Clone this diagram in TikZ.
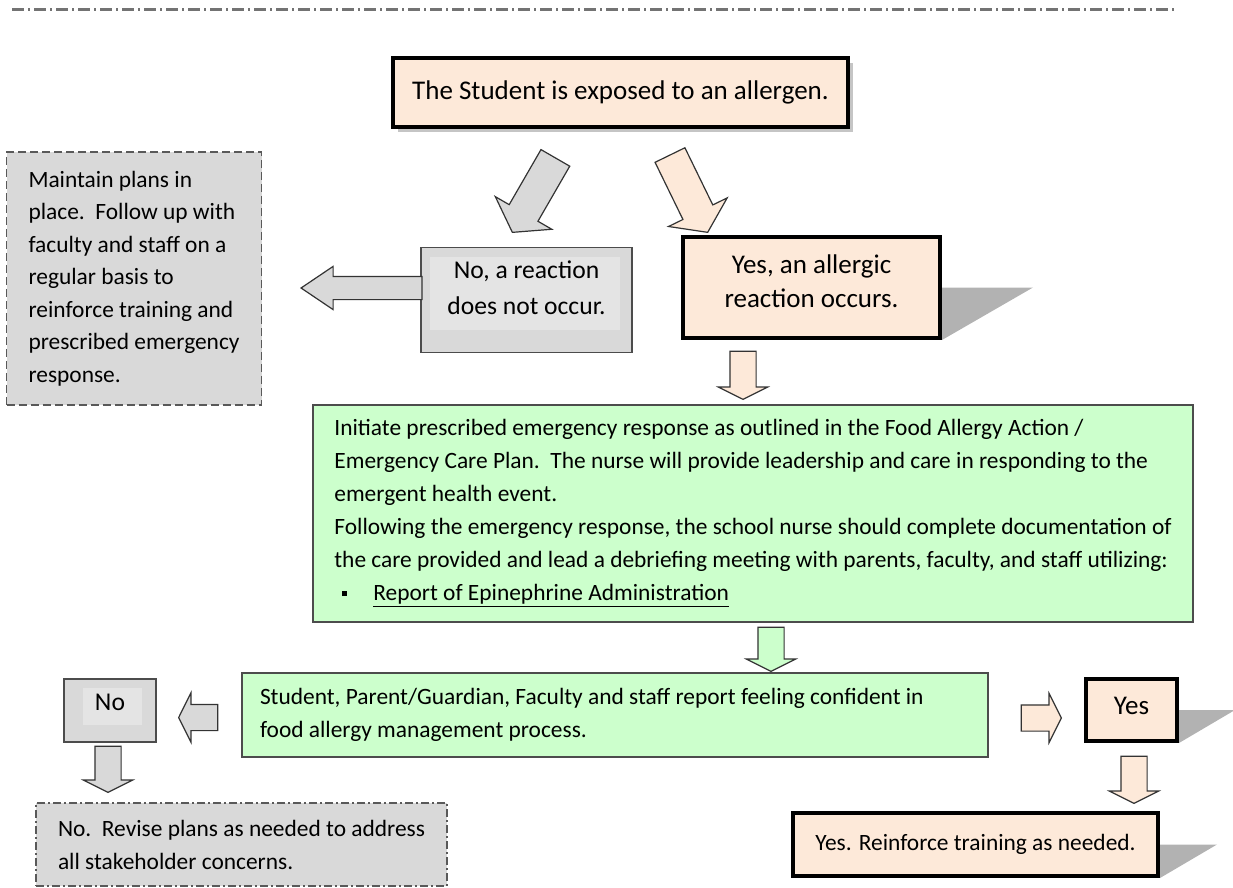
\documentclass[tikz,border=0pt]{standalone}
\usepackage{fontspec}
\setmainfont{Carlito}
\usetikzlibrary{shapes.arrows,shadows,backgrounds}
\definecolor{peach}{HTML}{FDE9D9}
\definecolor{boxgray}{HTML}{D9D9D9}
\definecolor{innergray}{HTML}{E4E4E4}
\definecolor{lightgreen}{HTML}{CCFFCC}
\definecolor{shadowgray}{HTML}{B2B2B2}
\begin{document}
\begin{tikzpicture}[x=0.5pt,y=-0.5pt,font=\fontsize{11.7}{16.5}\selectfont,
  peachbox/.style={draw,line width=2pt,fill=peach,align=center},
  graybox/.style={draw=black!70,line width=0.8pt,fill=boxgray,align=center},
  greenbox/.style={draw=black!70,line width=0.8pt,fill=lightgreen,align=left},
  longarrow/.style={single arrow,draw=black!80,line width=0.6pt,inner xsep=0pt,anchor=tip},
  shortarrow/.style={longarrow,inner ysep=6.25pt,single arrow head extend=5.75pt,single arrow tip angle=127}]
\useasboundingbox (0,0) rectangle (1233,888);
\draw[black!55,line width=1.5pt,dash pattern=on 6pt off 2pt on 1pt off 2pt] (12,10) -- (1175,10);

\node[peachbox,minimum width=227.5pt,minimum height=34.5pt,font=\fontsize{13.5}{16}\selectfont,
  drop shadow={shadow xshift=2.5pt,shadow yshift=-2.5pt,fill=black!45}] (allergen) at (620.5,92.5)
  {The Student is exposed to an allergen.};
\node[graybox,draw=black!65,line width=0.75pt,dash pattern=on 4pt off 2pt,align=left,
  minimum width=127.5pt,minimum height=126.5pt,font=\fontsize{11.7}{16.25}\selectfont] (maintain) at (134,278.5)
  {Maintain plans in\\place.\ \ Follow up with\\faculty and staff on a\\regular basis to\\reinforce training and\\prescribed emergency\\response.};
\node[graybox,minimum width=105.5pt,minimum height=52.5pt,text depth=12pt,font=\fontsize{12.8}{18}\selectfont,
  path picture={\fill[innergray] ([shift={(9,10)}]path picture bounding box.north west)
    rectangle ([shift={(-12,-23)}]path picture bounding box.south east);}] (noreact) at (526.5,300)
  {No, a reaction\\does not occur.};
\node[peachbox,minimum width=128.5pt,minimum height=50.5pt,text depth=6pt,font=\fontsize{13.5}{17}\selectfont] (yesreact) at (811.5,287.5)
  {Yes, an allergic\\reaction occurs.};
\node[greenbox,minimum width=440pt,minimum height=108.5pt] (initiate) at (753,513.5)
  {Initiate prescribed emergency response as outlined in the Food Allergy Action /\\
   Emergency Care Plan.\ \ The nurse will provide leadership and care in responding to the\\
   emergent health event.\\
   Following the emergency response, the school nurse should complete documentation of\\
   the care provided and lead a debriefing meeting with parents, faculty, and staff utilizing:\\
   \hspace*{4pt}\rule[2pt]{2.5pt}{2.5pt}\hspace{13pt}\underline{Report of Epinephrine Administration}};
\node[greenbox,align=flush left,text width=355pt,inner xsep=9pt,minimum height=42pt] (confident) at (615,715)
  {Student, Parent/Guardian, Faculty and staff report feeling confident in\\food allergy management process.};
\node[graybox,minimum width=46pt,minimum height=31.5pt,text depth=8pt,font=\fontsize{12.8}{16}\selectfont,
  path picture={\fill[innergray] ([shift={(19,9)}]path picture bounding box.north west)
    rectangle ([shift={(-14,-17)}]path picture bounding box.south east);}] (nobox) at (110,710.5) {No};
\node[graybox,draw=black!65,line width=0.75pt,dash pattern=on 4pt off 1.5pt on 1pt off 1.5pt,align=left,
  minimum width=205.5pt,minimum height=41.5pt] (revise) at (241.5,844.5)
  {No.\ \ Revise plans as needed to address\\all stakeholder concerns.};
\node[peachbox,minimum width=45.5pt,minimum height=31pt,text depth=4pt,font=\fontsize{13.5}{16}\selectfont] (yesbox) at (1131.5,710) {Yes};
\node[peachbox,minimum width=182.5pt,minimum height=31.5pt] (reinforce) at (975.5,844.5)
  {Yes. Reinforce training as needed.};

\begin{scope}[on background layer]
\fill[shadowgray] (yesreact.east) -- ++(91,0) -- (yesreact.south east) -- cycle;
\fill[shadowgray] (yesbox.east) -- ++(56,0) -- (yesbox.south east) -- cycle;
\fill[shadowgray] (reinforce.east) -- ++(57,0) -- (reinforce.south east) -- cycle;
\end{scope}

\node[longarrow,fill=boxgray,minimum height=43pt,inner ysep=8pt,single arrow head extend=8pt,
  single arrow tip angle=111,rotate=240] (toNo) at (512,233) {};
\node[longarrow,fill=peach,minimum height=43pt,inner ysep=8pt,single arrow head extend=8pt,
  single arrow tip angle=111,rotate=-64] (toYes) at (708,233) {};
\node[longarrow,fill=boxgray,minimum height=60.5pt,inner ysep=5.5pt,single arrow head extend=5pt,
  single arrow tip angle=68,rotate=180] (toMaintain) at (300,288) {};
\node[shortarrow,fill=peach,minimum height=24pt,rotate=-90] (toInitiate) at (743,400) {};
\node[shortarrow,fill=lightgreen,minimum height=22pt,rotate=-90] (toConfident) at (771,672) {};
\node[shortarrow,fill=boxgray,minimum height=19.5pt,rotate=180] (toNoBox) at (178,717.5) {};
\node[shortarrow,fill=boxgray,minimum height=23pt,rotate=-90] (toRevise) at (108,793) {};
\node[shortarrow,fill=peach,minimum height=20pt] (toYesBox) at (1062,718) {};
\node[shortarrow,fill=peach,minimum height=23.5pt,rotate=-90] (toReinforce) at (1134,804) {};
\end{tikzpicture}
\end{document}
